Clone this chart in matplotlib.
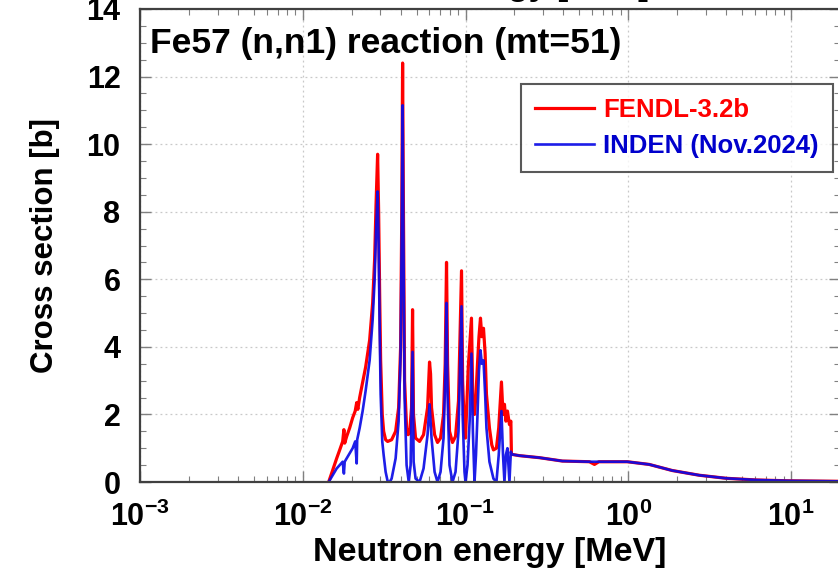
import numpy as np
import matplotlib
matplotlib.use("Agg")
import matplotlib.pyplot as plt
from matplotlib.ticker import LogLocator, MultipleLocator, FixedLocator

# FENDL-3.2b, Fe57 (n,n1)
fendl_e = [0.01443, 0.01527, 0.01616, 0.01687, 0.01759, 0.01790, 0.01810, 0.01862,
           0.01942, 0.02026, 0.02100, 0.02145, 0.02180, 0.02237, 0.02333, 0.02434,
           0.02576, 0.02688, 0.02765, 0.02820, 0.02884, 0.02926, 0.02970, 0.03010,
           0.03080, 0.03141, 0.03230, 0.03323, 0.03516, 0.03721, 0.03882, 0.03993,
           0.04060, 0.04107, 0.04150, 0.04224, 0.04345, 0.04440, 0.04533, 0.04660,
           0.04728, 0.04790, 0.04934, 0.05221, 0.05524, 0.05846, 0.06012, 0.06100,
           0.06185, 0.06457, 0.06730, 0.07025, 0.07328, 0.07500, 0.07645, 0.07760,
           0.07976, 0.08318, 0.08684, 0.09057, 0.09452, 0.09600, 0.09860, 0.1000,
           0.1040, 0.1088, 0.1110, 0.1136, 0.1160, 0.1185, 0.1210, 0.1236, 0.1260,
           0.1290, 0.1320, 0.1345, 0.1403, 0.1450, 0.1485, 0.1549, 0.1600, 0.1663,
           0.1700, 0.1735, 0.1770, 0.1810, 0.1862, 0.1900, 0.1915, 0.2145, 0.2844,
           0.3937, 0.577, 0.620, 0.660, 0.798, 0.986, 1.345, 1.862, 2.73, 3.99,
           6.10, 9.73, 20.0]
fendl_xs = [0.0, 0.35, 0.7, 0.95, 1.2, 1.55, 1.15, 1.35,
            1.6, 1.9, 2.1, 2.35, 2.15, 2.5, 2.95, 3.4,
            4.2, 5.3, 6.6, 8.2, 9.7, 8.0, 5.5, 3.6,
            2.0, 1.5, 1.25, 1.2, 1.25, 1.5, 2.2, 4.0,
            8.0, 12.4, 8.5, 3.0, 1.6, 1.4, 1.45, 2.2,
            5.1, 2.0, 1.3, 1.2, 1.4, 2.2, 3.55, 3.2,
            2.2, 1.4, 1.17, 1.3, 2.0, 3.5, 6.5, 3.5,
            1.5, 1.17, 1.35, 2.4, 6.25, 3.0, 1.5, 1.3,
            3.4, 4.85, 2.3, 2.0, 2.6, 3.5, 4.3, 4.85, 4.3,
            4.55, 3.8, 2.6, 1.6, 1.1, 0.95, 1.0, 1.6, 2.96,
            2.0, 2.3, 1.8, 2.1, 1.7, 1.8, 0.82, 0.78, 0.72,
            0.62, 0.6, 0.52, 0.6, 0.6, 0.6, 0.52, 0.34, 0.2, 0.11,
            0.06, 0.035, 0.02]

# INDEN (Nov.2024)
inden_e = [0.01443, 0.01527, 0.01616, 0.01759, 0.01790, 0.01810, 0.01942, 0.02026,
           0.02100, 0.02145, 0.02160, 0.02237, 0.02333, 0.02434, 0.02576, 0.02688,
           0.02765, 0.02820, 0.02884, 0.02926, 0.02970, 0.03010, 0.03080, 0.03141,
           0.03230, 0.03323, 0.03420, 0.03516, 0.03721, 0.03882, 0.03993, 0.04060,
           0.04107, 0.04150, 0.04224, 0.04345, 0.04480, 0.04600, 0.04728, 0.04800,
           0.04934, 0.05221, 0.05524, 0.05846, 0.06012, 0.06185, 0.06457, 0.06730,
           0.07025, 0.07328, 0.07500, 0.07645, 0.07760, 0.07976, 0.08318, 0.08684,
           0.09057, 0.09452, 0.09600, 0.09860, 0.1000, 0.1029, 0.1060, 0.1088,
           0.1110, 0.1136, 0.1160, 0.1185, 0.1210, 0.1236, 0.1260, 0.1290, 0.1320,
           0.1345, 0.1403, 0.1485, 0.1549, 0.1600, 0.1663, 0.1700, 0.1735, 0.1770,
           0.1810, 0.1862, 0.1900, 0.1915, 0.2145, 0.2844, 0.3937, 0.577, 0.798,
           0.986, 1.345, 1.862, 2.73, 3.99, 6.10, 9.73, 20.0]
inden_xs = [0.0, 0.2, 0.4, 0.6, 0.25, 0.6, 0.85, 1.0,
            1.2, 0.55, 1.25, 1.6, 2.1, 2.7, 3.6, 4.8,
            6.0, 7.4, 8.6, 7.0, 4.5, 2.6, 1.2, 0.8,
            0.3, 0.02, 0.0, 0.1, 0.7, 1.8, 3.8, 7.6,
            11.15, 7.5, 2.5, 0.5, 0.0, 0.5, 3.85, 0.6,
            0.1, 0.0, 0.4, 1.4, 2.3, 1.3, 0.3, 0.0,
            0.3, 1.3, 3.0, 5.3, 2.5, 0.5, 0.0, 0.3,
            1.5, 5.2, 2.0, 0.3, 0.0, 0.5, 1.8, 3.8,
            1.5, 0.0, 0.8, 2.0, 3.3, 3.9, 3.5, 3.6, 2.6,
            1.6, 0.6, 0.1, 0.0, 0.8, 2.1, 0.8, 0.0, 0.8,
            1.0, 0.0, 0.9, 0.82, 0.78, 0.72, 0.62, 0.6, 0.6,
            0.6, 0.52, 0.34, 0.2, 0.11, 0.06, 0.035, 0.02]

xtick_vals = [1e-3, 1e-2, 1e-1, 1e0, 1e1]
xtick_labels = [r"$10^{-3}$", r"$10^{-2}$", r"$10^{-1}$", r"$10^{0}$", r"$10^{1}$"]

FONT = "Liberation Sans"
plt.rcParams.update({
    "font.family": FONT,
    "font.weight": "bold",
    "mathtext.fontset": "custom",
    "mathtext.rm": f"{FONT}:bold",
    "mathtext.bf": f"{FONT}:bold",
    "mathtext.default": "bf",
})

W, H = 838, 573
fig = plt.figure(figsize=(W / 100, H / 100), dpi=100)
ax = fig.add_axes([140 / W, 1 - 482 / H, (840 - 140) / W, (482 - 9) / H])

ax.plot(fendl_e, fendl_xs, color="#ff0000", lw=2.3, label="FENDL-3.2b")
ax.plot(inden_e, inden_xs, color="#0a0ae6", lw=1.9, alpha=0.92, label="INDEN (Nov.2024)")

ax.set_xscale("log")
ax.set_xlim(1e-3, 20)
ax.set_ylim(0, 14)
ax.xaxis.set_major_locator(FixedLocator(xtick_vals))
ax.xaxis.set_minor_locator(LogLocator(base=10, subs=np.arange(2, 10), numticks=20))
ax.yaxis.set_major_locator(MultipleLocator(2))
ax.yaxis.set_minor_locator(MultipleLocator(0.5))
ax.set_xticklabels(xtick_labels)

ax.tick_params(which="both", direction="in", top=True, right=True,
               color="#808080", labelsize=22)
ax.tick_params(which="major", length=8, width=1)
ax.tick_params(which="minor", length=4, width=0.8)
ax.tick_params(axis="y", pad=14)
ax.tick_params(axis="x", pad=14)
ax.grid(which="major", color="#c8c8c8", ls=(0, (1.5, 2.5)), lw=0.9)
for s in ax.spines.values():
    s.set_color("#404040")
    s.set_linewidth(1.6)

ax.set_xlabel("Neutron energy [MeV]", fontsize=24.5, fontweight="bold", labelpad=3)
ax.set_ylabel("Cross section [b]", fontsize=22.5, fontweight="bold", labelpad=19)
ax.text(0.014, 0.962, "Fe57 (n,n1) reaction (mt=51)", transform=ax.transAxes,
        fontsize=25.5, fontweight="bold", va="top", ha="left")

leg = ax.legend(loc="upper right", bbox_to_anchor=((833 - 140) / 700, 1 - (84 - 9) / 473),
                borderaxespad=0, fontsize=18.5, frameon=True, fancybox=False,
                borderpad=0.55, handlelength=2.3, handletextpad=0.35, labelspacing=0.45)
leg.get_frame().set_edgecolor("#303030")
leg.get_frame().set_linewidth(1.5)
for t, c in zip(leg.get_texts(), ["#ff0000", "#0000cc"]):
    t.set_color(c)

# label of the panel above, clipped by the crop
fig.text(473 / W, 1 + 5 / H, "Neutron energy [MeV]", fontsize=24.5, fontweight="bold",
         ha="center", va="baseline")

fig.savefig("out.png", dpi=100)
